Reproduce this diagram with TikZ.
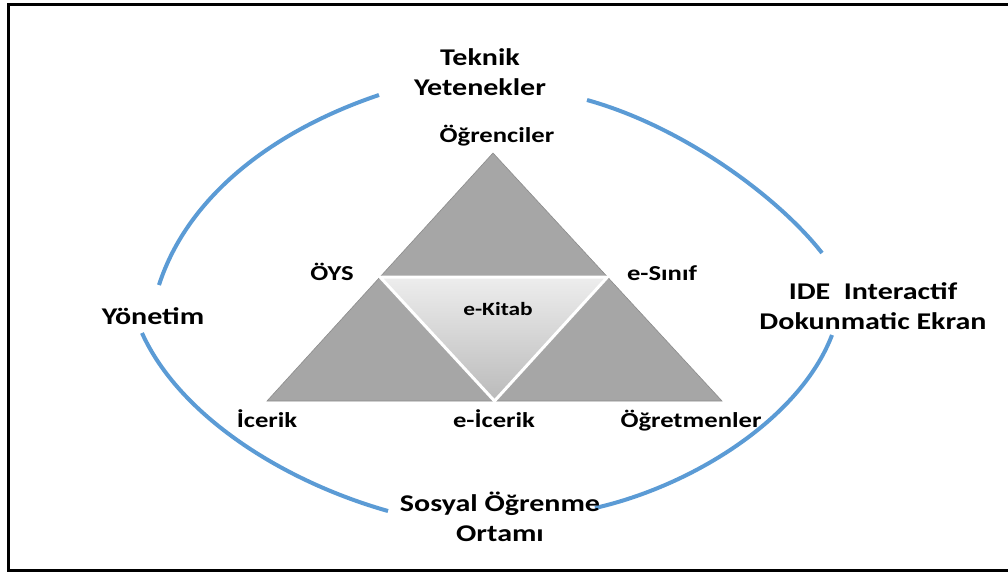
\documentclass[tikz,border=0pt]{standalone}
\usepackage{fontspec}
\setmainfont{Carlito}[FakeStretch=1.25]
\definecolor{arcblue}{HTML}{5B9BD5}
\definecolor{trigray}{HTML}{A6A6A6}
\definecolor{triedge}{HTML}{8C8C8C}
\begin{document}
\begin{tikzpicture}[x=1pt,y=-1pt,
  mainlbl/.style={font=\bfseries\fontsize{24}{30}\selectfont, align=center, inner sep=0pt},
  sublbl/.style={font=\bfseries\fontsize{21.3}{24}\selectfont, inner sep=0pt, anchor=base},
  ring/.style={draw=arcblue, line width=4pt},
  outertri/.style={fill=trigray, draw=triedge, line width=0.6pt},
  innertri/.style={top color=black!7, bottom color=black!27, draw=white, line width=3pt, line join=miter}
]
\useasboundingbox (0,0) rectangle (1008,573);
% frame
\draw[line width=2.5pt] (1010,4.5) -- (8.5,4.5) -- (8.5,570.5) -- (1010,570.5);

% triangle
\coordinate (A) at (493,153);
\coordinate (L) at (267,401);
\coordinate (R) at (722,401);
\coordinate (AL) at (380,277);
\coordinate (AR) at (607.5,277);
\coordinate (LR) at (494.5,401);
\path[outertri] (A) -- (AL) -- (AR) -- cycle;
\path[outertri] (AL) -- (L) -- (LR) -- cycle;
\path[outertri] (AR) -- (LR) -- (R) -- cycle;
\path[innertri] (AL) -- (AR) -- (LR) -- cycle;

% ring arcs
\coordinate (a1) at (379,95);  \coordinate (a2) at (159,285);
\coordinate (b1) at (587,100); \coordinate (b2) at (822,253);
\coordinate (c1) at (832,335); \coordinate (c2) at (595,508);
\coordinate (d1) at (142,333); \coordinate (d2) at (388,511);
\draw[ring] (a1) .. controls (275,130) and (188,195) .. (a2);
\draw[ring] (b1) .. controls (684,127) and (779,198) .. (b2);
\draw[ring] (c1) .. controls (800,419) and (692,486) .. (c2);
\draw[ring] (d1) .. controls (179,415) and (282,481) .. (d2);

% outer labels
\node[mainlbl] (tek) at (480,72) {Teknik\\Yetenekler};
\node[mainlbl] (sos) at (500,517) {Sosyal Öğrenme\\Ortamı};
\node[mainlbl, anchor=base] (yon) at (153,324) {Yönetim};
\node[mainlbl] (ide) at (873,306) {IDE~~Interactif\\Dokunmatic Ekran};

% inner labels
\node[sublbl] (ogr) at (497,142) {Öğrenciler};
\node[sublbl] (oys) at (332,280) {ÖYS};
\node[sublbl] (esi) at (662,280) {e-Sınıf};
\node[sublbl, font=\bfseries\fontsize{18.7}{22}\selectfont] (kit) at (498,315) {e-Kitab};
\node[sublbl] (ice) at (267,427) {İcerik};
\node[sublbl] (eic) at (494,427) {e-İcerik};
\node[sublbl] (ogt) at (691,427) {Öğretmenler};
\end{tikzpicture}
\end{document}
